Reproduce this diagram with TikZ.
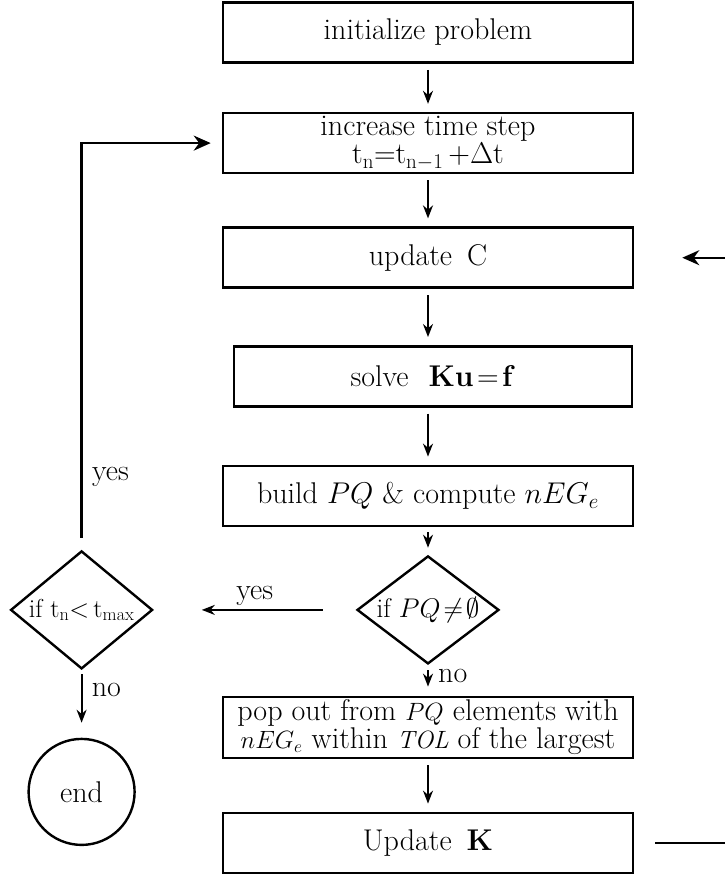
\RequirePackage{fix-cm}
\documentclass[tikz,border=0pt]{standalone}
\usetikzlibrary{arrows.meta, positioning, shapes.geometric}
\tikzset{
    stepbox/.style={rectangle, draw, line width=2.6pt, minimum width=410pt,
                    minimum height=60pt, inner sep=3pt, align=center},
    tightbox/.style={stepbox, font=\fontsize{30}{28}\selectfont, inner sep=1pt},
    decision/.style={diamond, draw, line width=2.4pt, minimum width=142pt,
                     minimum height=108pt, inner sep=0pt},
    stopnode/.style={circle, draw, line width=2.4pt, minimum size=106pt, inner sep=0pt},
    flow/.style={-{Stealth[length=13pt, width=10pt]}, line width=1.8pt,
                 shorten <=6pt, shorten >=8pt},
    loopedge/.style={-{Stealth[length=17pt, width=15pt]}, line width=2.4pt},
}
\newcommand{\smallit}[1]{{\fontsize{25}{28}\selectfont #1}}

\begin{document}
\begin{tikzpicture}[x=1pt, y=-1pt, every node/.style={font=\fontsize{30}{34}\selectfont}]
    \useasboundingbox (0,0) rectangle (725,876);
    \clip (0,0) rectangle (725,876);
    % main column
    \node[stepbox] (init) at (428,32.5) {initialize problem};
    \node[tightbox, below=48pt of init] (incr) {increase time step\\
        t$_\mathrm{n}$=t$_{\mathrm{n}-1}$\,+$\Delta$t};
    \node[stepbox, below=52pt of incr] (updC) {update\enspace C};
    \node[stepbox, minimum width=398pt, below=56pt of updC, xshift=5pt] (solve)
        {solve\hspace{20pt}$\mathbf{Ku}\!=\!\mathbf{f}$};
    \node[stepbox, below=57pt of solve, xshift=-5pt] (build) {build $PQ$ \& compute $nEG_e$};
    \node[decision, below=27.5pt of build,
          label={[font=\fontsize{27}{30}\selectfont]center:if $PQ\!\neq\!\emptyset$}] (pq) {};
    \node[tightbox, minimum height=61pt, below=30.5pt of pq] (pop) {pop out from \smallit{$PQ$} elements with\\
        \smallit{$nEG_e$} within \smallit{\textit{TOL}} of the largest};
    \node[stepbox, below=52.4pt of pop] (updK) {Update\enspace$\mathbf{K}$};
    % time loop
    \node[decision, minimum height=118pt, left=202pt of pq,
          label={[font=\fontsize{26}{30}\selectfont]center:if t$_\mathrm{n}{<}$\,t$_\mathrm{max}$}] (tcheck) {};
    \node[stopnode, below=67.6pt of tcheck] (stop) {end};
    \coordinate (rail) at (790,0);

    \draw[flow] (init) -- (incr);
    \draw[flow] (incr) -- (updC);
    \draw[flow] (updC) -- (updC |- solve.north);
    \draw[flow] (updC |- solve.south) -- (build);
    \draw[flow, shorten <=5pt, shorten >=7pt] (build) -- (pq);
    \draw[flow, shorten <=5pt, shorten >=9pt] (pq) -- node[right, pos=0.35, xshift=6pt] {no} (pop);
    \draw[flow] (pop) -- (updK);
    \draw[flow, shorten <=33pt, shorten >=48pt] (pq.west) -- node[above] {yes} (tcheck.east);
    \draw[flow, shorten <=4pt, shorten >=15pt] (tcheck.south) -- node[right, pos=0.3, xshift=6pt] {no} (stop.north);
    \draw[loopedge, shorten <=12pt, shorten >=11pt] (tcheck.north) |- node[right, pos=0.09, xshift=6pt] {yes} (incr.west);
    \draw[loopedge, shorten <=21pt, shorten >=48pt] (updK.east) -- (updK.east -| rail)
        -- (updC.east -| rail) -- (updC.east);
\end{tikzpicture}
\end{document}
